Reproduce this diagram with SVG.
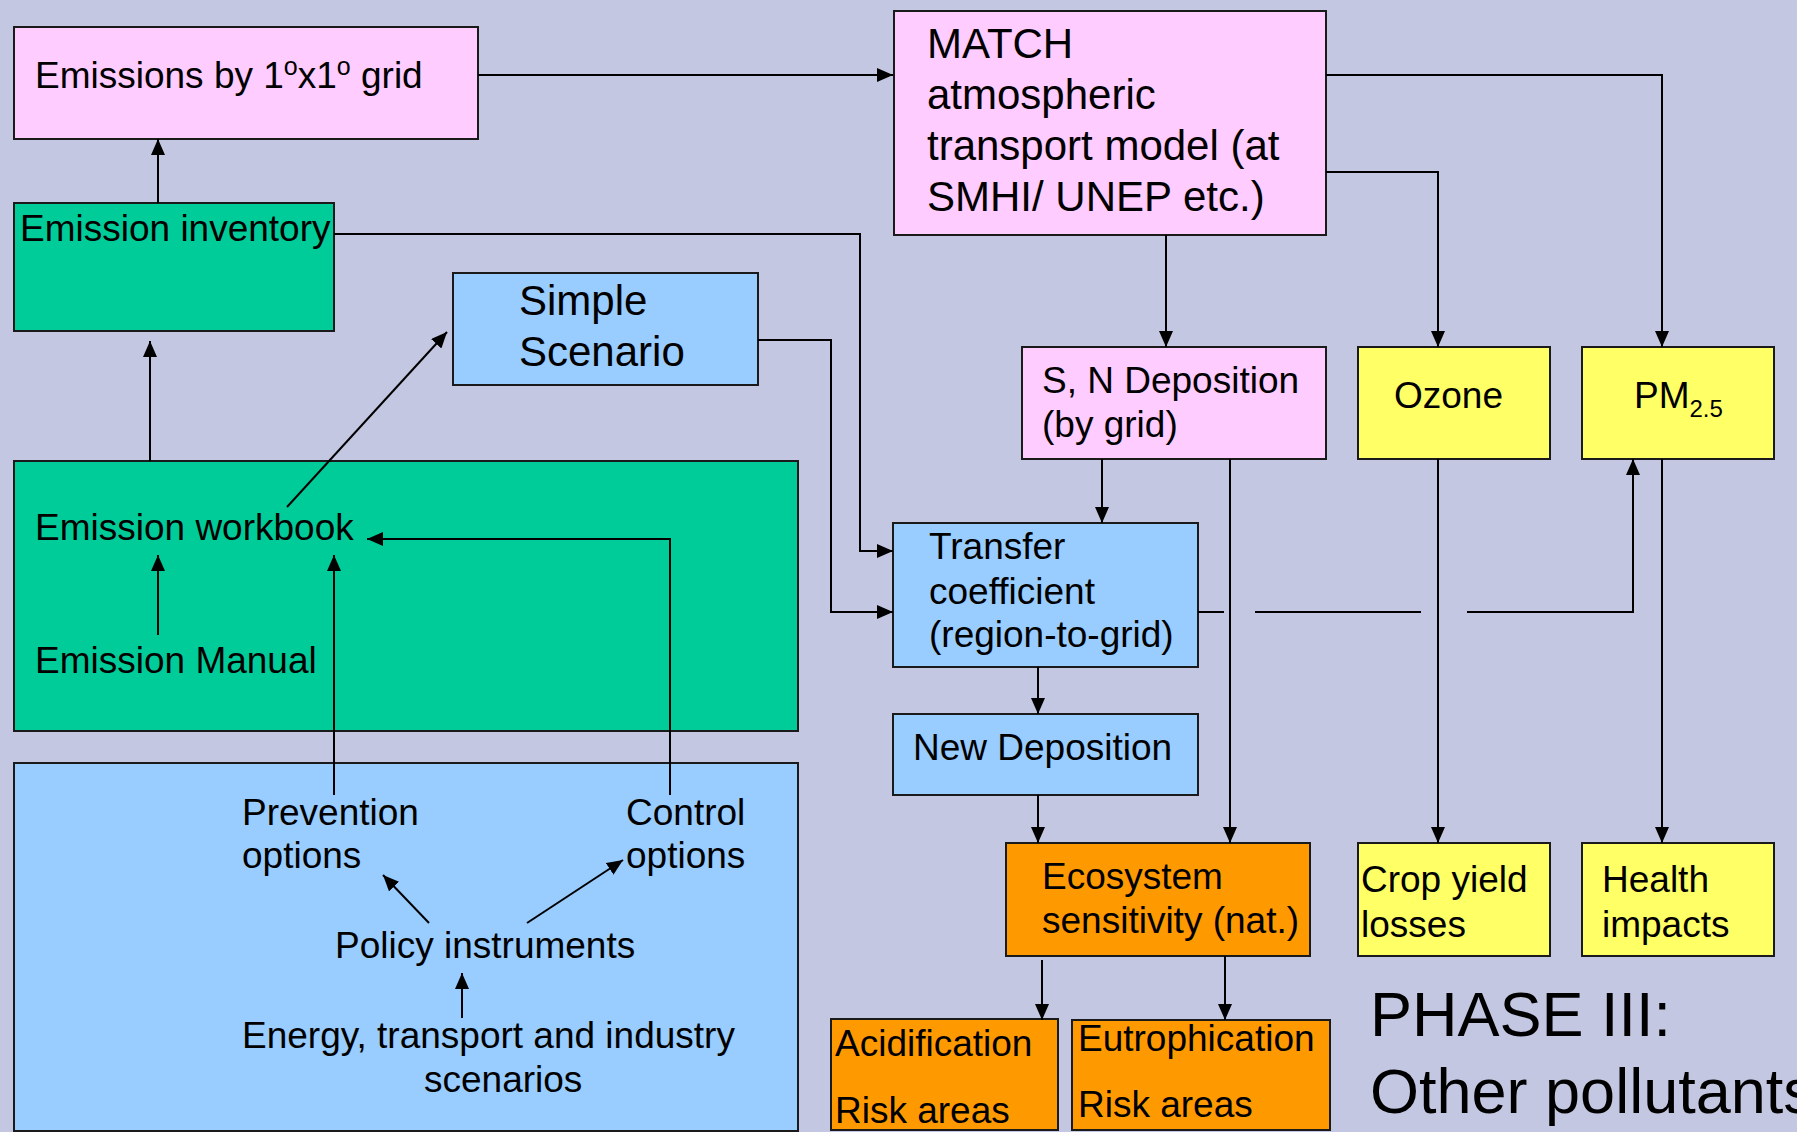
<svg xmlns="http://www.w3.org/2000/svg" width="1797" height="1132" viewBox="0 0 1797 1132">
<defs>
<marker id="ah" markerWidth="16" markerHeight="14" refX="16" refY="7" orient="auto" markerUnits="userSpaceOnUse"><path d="M0,0 L16,7 L0,14 z" fill="#000"/></marker>
<style>
.box{stroke:#1a1a1a;stroke-width:2}
.pink{fill:#FFCCFF}.green{fill:#00CC99}.blue{fill:#99CCFF}.yellow{fill:#FFFF66}.orange{fill:#FF9900}
text{font-family:"Liberation Sans",Arial,sans-serif;font-size:37px;fill:#000}
.big{font-size:42px}
.huge{font-size:63px}
.c{fill:none;stroke:#000;stroke-width:2}
.a{marker-end:url(#ah)}
</style>
</defs>
<rect width="1797" height="1132" fill="#C3C7E1"/>

<g id="n-workbook-area"><rect class="box green" x="14" y="461" width="784" height="270"/></g>
<g id="n-options-area"><rect class="box blue" x="14" y="763" width="784" height="368"/></g>

<g id="n-emissions-grid"><rect class="box pink" x="14" y="27" width="464" height="112"/>
<text x="35" y="88">Emissions by 1<tspan font-size="25" dy="-13">o</tspan><tspan dy="13">x1</tspan><tspan font-size="25" dy="-13">o</tspan><tspan dy="13"> grid</tspan></text></g>

<g id="n-inventory"><rect class="box green" x="14" y="203" width="320" height="128"/>
<text x="20" y="241">Emission inventory</text></g>

<g id="n-simple"><rect class="box blue" x="453" y="273" width="305" height="112"/>
<text class="big" x="519" y="315">Simple</text><text class="big" x="519" y="366">Scenario</text></g>

<g id="n-match"><rect class="box pink" x="894" y="11" width="432" height="224"/>
<text class="big" x="927" y="58">MATCH</text>
<text class="big" x="927" y="109">atmospheric</text>
<text class="big" x="927" y="160">transport model (at</text>
<text class="big" x="927" y="211">SMHI/ UNEP etc.)</text></g>

<g id="n-sndep"><rect class="box pink" x="1022" y="347" width="304" height="112"/>
<text x="1042" y="393">S, N Deposition</text><text x="1042" y="437">(by grid)</text></g>

<g id="n-ozone"><rect class="box yellow" x="1358" y="347" width="192" height="112"/>
<text x="1394" y="408">Ozone</text></g>

<g id="n-pm"><rect class="box yellow" x="1582" y="347" width="192" height="112"/>
<text x="1634" y="408">PM<tspan font-size="24" dy="9">2.5</tspan></text></g>

<g id="n-transfer"><rect class="box blue" x="893" y="523" width="305" height="144"/>
<text x="929" y="559">Transfer</text><text x="929" y="604">coefficient</text><text x="929" y="647">(region-to-grid)</text></g>

<g id="n-newdep"><rect class="box blue" x="893" y="714" width="305" height="81"/>
<text x="913" y="760">New Deposition</text></g>

<g id="n-ecosystem"><rect class="box orange" x="1006" y="843" width="304" height="113"/>
<text x="1042" y="889">Ecosystem</text><text x="1042" y="933">sensitivity (nat.)</text></g>

<g id="n-crop"><rect class="box yellow" x="1358" y="843" width="192" height="113"/>
<text x="1361" y="892">Crop yield</text><text x="1361" y="937">losses</text></g>

<g id="n-health"><rect class="box yellow" x="1582" y="843" width="192" height="113"/>
<text x="1602" y="892">Health</text><text x="1602" y="937">impacts</text></g>

<g id="n-acid"><rect class="box orange" x="831" y="1019" width="227" height="111"/>
<text x="835" y="1056">Acidification</text><text x="835" y="1123">Risk areas</text></g>

<g id="n-eutro"><rect class="box orange" x="1072" y="1020" width="258" height="110"/>
<text x="1078" y="1051">Eutrophication</text><text x="1078" y="1117">Risk areas</text></g>

<g id="n-workbook"><text x="35" y="540">Emission workbook</text></g>
<g id="n-manual"><text x="35" y="673">Emission Manual</text></g>
<g id="n-prevention"><text x="242" y="825">Prevention</text><text x="242" y="868">options</text></g>
<g id="n-control"><text x="626" y="825">Control</text><text x="626" y="868">options</text></g>
<g id="n-policy"><text x="335" y="958">Policy instruments</text></g>
<g id="n-energy"><text x="242" y="1048">Energy, transport and industry</text><text x="424" y="1092">scenarios</text></g>
<g id="n-phase"><text class="huge" x="1370" y="1036">PHASE III:</text><text class="huge" x="1370" y="1113">Other pollutants</text></g>

<g id="connectors">
<path class="c a" d="M478,75 H893"/>
<path class="c a" d="M158,203 V139"/>
<path class="c a" d="M150,461 V341"/>
<path class="c a" d="M287,507 L447,332"/>
<path class="c a" d="M334,234 H860 V551 H893"/>
<path class="c a" d="M758,340 H831 V612 H893"/>
<path class="c a" d="M1166,235 V347"/>
<path class="c a" d="M1326,172 H1438 V347"/>
<path class="c a" d="M1326,75 H1662 V347"/>
<path class="c a" d="M1102,459 V523"/>
<path class="c a" d="M1230,459 V843"/>
<path class="c a" d="M1438,459 V843"/>
<path class="c a" d="M1662,459 V843"/>
<path class="c" d="M1198,612 H1224 M1255,612 H1421"/>
<path class="c a" d="M1467,612 H1633 V459"/>
<path class="c a" d="M1038,667 V714"/>
<path class="c a" d="M1038,795 V843"/>
<path class="c a" d="M1042,960 V1020"/>
<path class="c a" d="M1225,956 V1020"/>
<path class="c a" d="M158,635 V555"/>
<path class="c a" d="M334,795 V555"/>
<path class="c a" d="M670,795 V539 H367"/>
<path class="c a" d="M429,923 L383,875"/>
<path class="c a" d="M527,923 L623,860"/>
<path class="c a" d="M462,1018 V973"/>
</g>
</svg>
